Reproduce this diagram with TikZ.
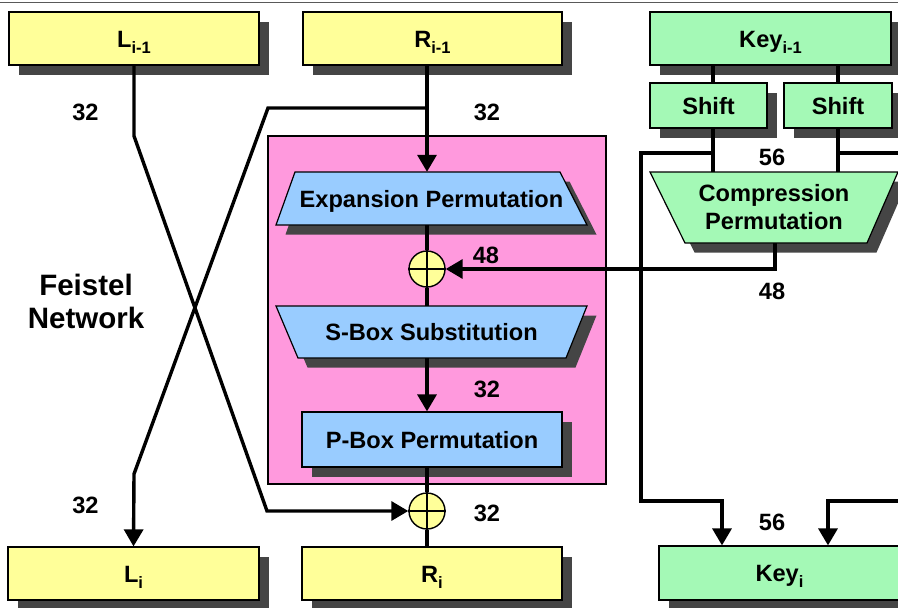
\documentclass[tikz,border=0pt]{standalone}
\usepackage{fontspec}
\setmainfont{Liberation Sans}
\usetikzlibrary{arrows.meta,shadows}

\definecolor{yellowfill}{HTML}{FFFF99}
\definecolor{greenfill}{HTML}{A4F9B6}
\definecolor{pinkfill}{HTML}{FF99DD}
\definecolor{bluefill}{HTML}{99CCFF}
\definecolor{shadowgray}{HTML}{454545}

% lowered index used in the register names
\newcommand\lowidx[1]{\raisebox{-6pt}{\fontsize{16.5}{16.5}\selectfont #1}}

\begin{document}
\begin{tikzpicture}[x=1pt,y=-1pt,
  txt/.style={font=\bfseries\fontsize{23.6}{28}\selectfont},
  boxshadow/.style={drop shadow={shadow xshift=9.5pt,shadow yshift=-9.5pt,fill=shadowgray,opacity=1}},
  regbox/.style={txt,draw=black,line width=1.2pt,inner sep=0pt,text height=17pt,text depth=0pt,boxshadow},
  ybox/.style={regbox,fill=yellowfill},
  gbox/.style={regbox,fill=greenfill},
  bbox/.style={regbox,fill=bluefill},
  shapetext/.style={txt,inner sep=0pt,text height=17pt,text depth=0pt},
  outline/.style={draw=black,line width=1.2pt},
  wire/.style={line width=3.4pt},
  arr/.style={wire,-{Triangle[length=17pt,width=19pt]}},
  lbl/.style={txt,inner sep=0pt},
  xorc/.style={circle,draw=black,line width=1.4pt,fill=yellowfill,minimum size=36pt,inner sep=0pt}]

\useasboundingbox (0,0) rectangle (898,608);
\clip (0,0) rectangle (898,608);

% rule along the top edge
\draw[line width=1.5pt,color=black!65] (0,2.5) -- (898,2.5);

% round function frame
\node[draw=black,line width=1.4pt,fill=pinkfill,minimum width=338pt,minimum height=348pt,inner sep=0pt] (ffun) at (437,310) {};

% column and bend positions
\coordinate (colA) at (713,0);
\coordinate (colB) at (838,0);
\coordinate (colC) at (775,0);
\coordinate (tapY) at (0,153);
\coordinate (loopL) at (641,0);
\coordinate (feedY) at (0,501);
\coordinate (inA) at (722,0);
\coordinate (inB) at (828,0);
\coordinate (edgeR) at (905,0);
\coordinate (lb1) at (134,136);
\coordinate (lb2) at (267,0);
\coordinate (rb1) at (268,108);
\coordinate (rb2) at (134,474);

% trapezoid blocks (drawn as paths, labelled by nodes)
\fill[shadowgray,shift={(9.5,9.5)}] (295,172) -- (560,172) -- (587,225) -- (276,225) -- cycle;
\path[outline,fill=bluefill] (295,172) -- (560,172) -- (587,225) -- (276,225) -- cycle;
\node[shapetext,minimum width=311pt,minimum height=53pt] (exp) at (431.5,198.5) {Expansion Permutation};

\fill[shadowgray,shift={(9.5,9.5)}] (276,306) -- (587,306) -- (566,358) -- (298,358) -- cycle;
\path[outline,fill=bluefill] (276,306) -- (587,306) -- (566,358) -- (298,358) -- cycle;
\node[shapetext,minimum width=311pt,minimum height=52pt] (sbox) at (431.5,332) {S-Box Substitution};

\fill[shadowgray,shift={(9.5,9.5)}] (650,172) -- (898,172) -- (867,243) -- (685,243) -- cycle;
\path[outline,fill=greenfill] (650,172) -- (898,172) -- (867,243) -- (685,243) -- cycle;
\node[txt,inner sep=0pt,align=center,minimum width=248pt,minimum height=71pt] (comp) at (774,207.5) {Compression\\Permutation};

% rectangular blocks
\node[ybox,minimum width=250pt,minimum height=53pt] (Lprev) at (134,38.5) {L\lowidx{i-1}};
\node[ybox,minimum width=259pt,minimum height=53pt] (Rprev) at (432.5,38.5) {R\lowidx{i-1}};
\node[gbox,minimum width=241pt,minimum height=53pt] (Kprev) at (770.5,38.5) {Key\lowidx{i-1}};
\node[gbox,minimum width=117pt,minimum height=45pt] (sh1) at (708.5,105.5) {Shift};
\node[gbox,minimum width=108pt,minimum height=45pt] (sh2) at (838,105.5) {Shift};
\node[bbox,minimum width=260pt,minimum height=55pt] (pbox) at (432,439.5) {P-Box Permutation};
\node[ybox,minimum width=251pt,minimum height=53pt] (Li) at (133.5,573.5) {L\lowidx{i}};
\node[ybox,minimum width=260pt,minimum height=53pt] (Ri) at (432,573.5) {R\lowidx{i}};
\node[gbox,minimum width=241pt,minimum height=54pt] (Ki) at (779.5,573) {Key\lowidx{i}};

% XOR junctions
\node[xorc] (xor1) at (427,269) {};
\node[xorc] (xor2) at (427,511) {};

% Feistel crossing
\draw[arr] (Lprev.south) -- (lb1) -- (lb2 |- xor2) -- (xor2.west);
\draw[arr] (rb1 -| xor1) -- (rb1) -- (rb2) -- (Li.north);

% round function data path
\draw[arr] (Rprev.south -| xor1) -- (exp.north -| xor1);
\draw[wire] (exp.south -| xor1) -- (xor1.north);
\draw[wire] (xor1.south) -- (sbox.north -| xor1);
\draw[arr] (sbox.south -| xor1) -- (pbox.north -| xor1);
\draw[wire] (pbox.south -| xor1) -- (xor2.north);
\draw[wire] (xor2.south) -- (Ri.north -| xor2);

% key schedule
\draw[wire] (Kprev.south -| colA) -- (sh1.north -| colA);
\draw[wire] (Kprev.south -| colB) -- (sh2.north -| colB);
\draw[wire] (sh1.south -| colA) -- (comp.north -| colA);
\draw[wire] (sh2.south -| colB) -- (comp.north -| colB);
\draw[arr] (colA |- tapY) -- (loopL |- tapY) -- (loopL |- feedY) -- (inA |- feedY) -- (Ki.north -| inA);
\draw[wire] (colB |- tapY) -- (edgeR |- tapY);
\draw[arr] (edgeR |- feedY) -- (inB |- feedY) -- (Ki.north -| inB);
\draw[arr] (comp.south -| colC) -- (colC |- xor1) -- (xor1.east);

% XOR crosses
\draw[line width=1.4pt] (xor1.north) -- (xor1.south) (xor1.west) -- (xor1.east);
\draw[line width=1.4pt] (xor2.north) -- (xor2.south) (xor2.west) -- (xor2.east);

% bit widths
\node[lbl] (w1) at (85.5,112) {32};
\node[lbl] (w2) at (487,112) {32};
\node[lbl] (w3) at (772,157) {56};
\node[lbl] (w4) at (486,255.5) {48};
\node[lbl] (w5) at (772,291) {48};
\node[lbl] (w6) at (487,389) {32};
\node[lbl] (w7) at (85.5,505) {32};
\node[lbl] (w8) at (487,513.5) {32};
\node[lbl] (w9) at (772,522) {56};

\node[inner sep=0pt,align=center,font=\bfseries\fontsize{29.5}{33}\selectfont] (feistel) at (86,301) {Feistel\\Network};
\end{tikzpicture}
\end{document}
